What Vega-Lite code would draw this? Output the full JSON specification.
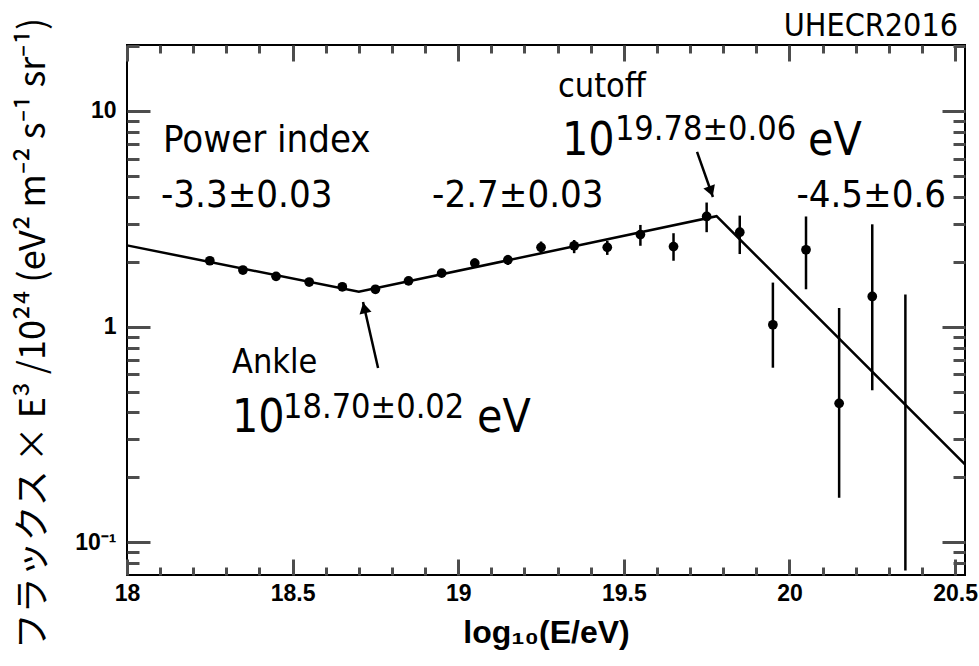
{
  "$schema": "https://vega.github.io/schema/vega-lite/v6.json",
  "width": 838,
  "height": 530,
  "autosize": "none",
  "padding": {"left": 127, "top": 45, "right": 14, "bottom": 91},
  "background": "white",
  "config": {
    "view": {"stroke": "black", "strokeWidth": 2},
    "axis": {"domain": false, "grid": false, "labelColor": "black", "titleColor": "black", "labelFlush": false}
  },
  "datasets": {
    "fit": [
      {"x": 18.0, "y": 2.38},
      {"x": 18.70, "y": 1.45},
      {"x": 19.78, "y": 3.25},
      {"x": 20.53, "y": 0.23}
    ],
    "meas": [
      {"x": 18.25, "y": 2.02, "lo": 1.95, "hi": 2.09},
      {"x": 18.35, "y": 1.83, "lo": 1.77, "hi": 1.89},
      {"x": 18.45, "y": 1.71, "lo": 1.65, "hi": 1.77},
      {"x": 18.55, "y": 1.61, "lo": 1.55, "hi": 1.67},
      {"x": 18.65, "y": 1.53, "lo": 1.47, "hi": 1.59},
      {"x": 18.75, "y": 1.49, "lo": 1.43, "hi": 1.55},
      {"x": 18.85, "y": 1.63, "lo": 1.57, "hi": 1.70},
      {"x": 18.95, "y": 1.77, "lo": 1.70, "hi": 1.85},
      {"x": 19.05, "y": 1.97, "lo": 1.90, "hi": 2.07},
      {"x": 19.15, "y": 2.04, "lo": 1.93, "hi": 2.15},
      {"x": 19.25, "y": 2.33, "lo": 2.19, "hi": 2.48},
      {"x": 19.35, "y": 2.37, "lo": 2.19, "hi": 2.52},
      {"x": 19.45, "y": 2.33, "lo": 2.15, "hi": 2.50},
      {"x": 19.55, "y": 2.67, "lo": 2.37, "hi": 2.96},
      {"x": 19.65, "y": 2.35, "lo": 2.02, "hi": 2.71},
      {"x": 19.75, "y": 3.24, "lo": 2.74, "hi": 3.76},
      {"x": 19.85, "y": 2.74, "lo": 2.17, "hi": 3.27},
      {"x": 19.95, "y": 1.02, "lo": 0.645, "hi": 1.60},
      {"x": 20.05, "y": 2.27, "lo": 1.49, "hi": 3.24},
      {"x": 20.15, "y": 0.441, "lo": 0.161, "hi": 1.22},
      {"x": 20.25, "y": 1.38, "lo": 0.507, "hi": 2.98},
      {"x": 20.35, "y": null, "lo": 0.074, "hi": 1.41}
    ]
  },
  "layer": [
    {
      "data": {"name": "fit"},
      "mark": {"type": "line", "color": "black", "strokeWidth": 2.5},
      "encoding": {
        "x": {"field": "x", "type": "quantitative",
              "scale": {"type": "linear", "domain": [18, 20.53], "nice": false, "zero": false},
              "axis": {"orient": "bottom", "values": [18, 18.5, 19, 19.5, 20, 20.5], "format": "~g", "tickSize": -16, "tickColor": "#4d4d4d", "tickWidth": 3, "labelPadding": 23,
                       "labelFont": "Liberation Sans", "labelFontWeight": "bold", "labelFontSize": 23,
                       "title": "log₁₀(E/eV)", "titleFont": "Liberation Sans", "titleFontWeight": "bold", "titleFontSize": 32, "titlePadding": 12}},
        "y": {"field": "y", "type": "quantitative",
              "scale": {"type": "log", "domain": [0.0706, 20.2], "nice": false},
              "axis": {"orient": "left", "values": [0.1, 1, 10], "tickSize": -23, "tickColor": "#4d4d4d", "tickWidth": 3, "labelPadding": 34,
                       "labelExpr": "datum.value < 0.5 ? '10⁻¹' : (datum.value < 5 ? '1' : '10')",
                       "labelFont": "Liberation Sans", "labelFontWeight": "bold", "labelFontSize": 23,
                       "title": "フラックス × E³ /10²⁴ (eV² m⁻² s⁻¹ sr⁻¹)", "titleFont": "Noto Sans CJK JP", "titleFontWeight": "normal", "titleFontSize": 36, "titlePadding": 22, "titleY": 288}}
      }
    },
    {
      "data": {"name": "meas"},
      "mark": {"type": "rule", "color": "black", "strokeWidth": 2.5},
      "encoding": {
        "x": {"field": "x", "type": "quantitative",
              "axis": {"orient": "bottom", "values": [18.1, 18.2, 18.3, 18.4, 18.6, 18.7, 18.8, 18.9, 19.1, 19.2, 19.3, 19.4, 19.6, 19.7, 19.8, 19.9, 20.1, 20.2, 20.3, 20.4], "tickSize": -8, "tickColor": "#4d4d4d", "tickWidth": 3, "labels": false, "title": null}},
        "y": {"field": "lo", "type": "quantitative",
              "axis": {"orient": "left", "values": [0.07, 0.08, 0.09, 0.2, 0.3, 0.4, 0.5, 0.6, 0.7, 0.8, 0.9, 2, 3, 4, 5, 6, 7, 8, 9, 20], "tickSize": -12, "tickColor": "#4d4d4d", "tickWidth": 3, "labels": false, "title": null}},
        "y2": {"field": "hi"}
      }
    },
    {
      "data": {"name": "meas"},
      "transform": [{"filter": "datum.y != null"}],
      "mark": {"type": "point", "filled": true, "color": "black", "opacity": 1, "size": 95},
      "encoding": {
        "x": {"field": "x", "type": "quantitative",
              "axis": {"orient": "top", "values": [18, 18.5, 19, 19.5, 20, 20.5], "tickSize": -16, "tickColor": "#4d4d4d", "tickWidth": 3, "labels": false, "title": null}},
        "y": {"field": "y", "type": "quantitative",
              "axis": {"orient": "right", "values": [0.1, 1, 10], "tickSize": -23, "tickColor": "#4d4d4d", "tickWidth": 3, "labels": false, "title": null}}
      }
    },
    {
      "data": {"values": [
        {"x": 19.721, "y": 6.46, "x2": 19.769, "y2": 3.99},
        {"x": 18.758, "y": 0.643, "x2": 18.7126, "y2": 1.30}
      ]},
      "mark": {"type": "rule", "color": "black", "strokeWidth": 2.5},
      "encoding": {
        "x": {"field": "x", "type": "quantitative",
              "axis": {"orient": "top", "values": [18.1, 18.2, 18.3, 18.4, 18.6, 18.7, 18.8, 18.9, 19.1, 19.2, 19.3, 19.4, 19.6, 19.7, 19.8, 19.9, 20.1, 20.2, 20.3, 20.4], "tickSize": -8, "tickColor": "#4d4d4d", "tickWidth": 3, "labels": false, "title": null}},
        "y": {"field": "y", "type": "quantitative",
              "axis": {"orient": "right", "values": [0.07, 0.08, 0.09, 0.2, 0.3, 0.4, 0.5, 0.6, 0.7, 0.8, 0.9, 2, 3, 4, 5, 6, 7, 8, 9, 20], "tickSize": -12, "tickColor": "#4d4d4d", "tickWidth": 3, "labels": false, "title": null}},
        "x2": {"field": "x2"},
        "y2": {"field": "y2"}
      }
    },
    {
      "data": {"values": [{"x": 19.763, "y": 4.24}]},
      "mark": {"type": "point", "shape": "triangle-down", "filled": true, "color": "black", "opacity": 1, "size": 150, "angle": 340},
      "encoding": {
        "x": {"field": "x", "type": "quantitative", "axis": null},
        "y": {"field": "y", "type": "quantitative", "axis": null}
      }
    },
    {
      "data": {"values": [{"x": 18.7165, "y": 1.222}]},
      "mark": {"type": "point", "shape": "triangle-up", "filled": true, "color": "black", "opacity": 1, "size": 150, "angle": 347},
      "encoding": {
        "x": {"field": "x", "type": "quantitative", "axis": null},
        "y": {"field": "y", "type": "quantitative", "axis": null}
      }
    },
    {
      "data": {"values": [
        {"x": 18.1087, "y": 6.45, "label": "Power index"},
        {"x": 18.1027, "y": 3.59, "label": "-3.3±0.03"},
        {"x": 18.921, "y": 3.59, "label": "-2.7±0.03"}
      ]},
      "mark": {"type": "text", "align": "left", "baseline": "alphabetic", "fontSize": 38, "font": "Liberation Sans Narrow, DejaVu Sans Condensed, Open Sans", "color": "black"},
      "encoding": {
        "x": {"field": "x", "type": "quantitative", "axis": null},
        "y": {"field": "y", "type": "quantitative", "axis": null},
        "text": {"field": "label"}
      }
    },
    {
      "data": {"values": [
        {"x": 20.473, "y": 3.59, "label": "-4.5±0.6"}
      ]},
      "mark": {"type": "text", "align": "right", "baseline": "alphabetic", "fontSize": 38, "font": "Liberation Sans Narrow, DejaVu Sans Condensed, Open Sans", "color": "black"},
      "encoding": {
        "x": {"field": "x", "type": "quantitative", "axis": null},
        "y": {"field": "y", "type": "quantitative", "axis": null},
        "text": {"field": "label"}
      }
    },
    {
      "data": {"values": [
        {"x": 20.509, "y": 22.27, "label": "UHECR2016"}
      ]},
      "mark": {"type": "text", "align": "right", "baseline": "alphabetic", "fontSize": 32, "font": "Liberation Sans Narrow, DejaVu Sans Condensed, Open Sans", "color": "black"},
      "encoding": {
        "x": {"field": "x", "type": "quantitative", "axis": null},
        "y": {"field": "y", "type": "quantitative", "axis": null},
        "text": {"field": "label"}
      }
    },
    {
      "data": {"values": [
        {"x": 19.301, "y": 11.6, "label": "cutoff"},
        {"x": 18.317, "y": 0.61, "label": "Ankle"}
      ]},
      "mark": {"type": "text", "align": "left", "baseline": "alphabetic", "fontSize": 34, "font": "Liberation Sans Narrow, DejaVu Sans Condensed, Open Sans", "color": "black"},
      "encoding": {
        "x": {"field": "x", "type": "quantitative", "axis": null},
        "y": {"field": "y", "type": "quantitative", "axis": null},
        "text": {"field": "label"}
      }
    },
    {
      "data": {"values": [
        {"x": 19.313, "y": 6.25, "label": "10"},
        {"x": 20.056, "y": 6.25, "label": "eV"},
        {"x": 18.317, "y": 0.325, "label": "10"},
        {"x": 19.057, "y": 0.325, "label": "eV"}
      ]},
      "mark": {"type": "text", "align": "left", "baseline": "alphabetic", "fontSize": 46, "font": "Liberation Sans Narrow, DejaVu Sans Condensed, Open Sans", "color": "black"},
      "encoding": {
        "x": {"field": "x", "type": "quantitative", "axis": null},
        "y": {"field": "y", "type": "quantitative", "axis": null},
        "text": {"field": "label"}
      }
    },
    {
      "data": {"values": [
        {"x": 19.473, "y": 7.34, "label": "19.78±0.06"},
        {"x": 18.471, "y": 0.3774, "label": "18.70±0.02"}
      ]},
      "mark": {"type": "text", "align": "left", "baseline": "alphabetic", "fontSize": 34, "font": "Liberation Sans Narrow, DejaVu Sans Condensed, Open Sans", "color": "black"},
      "encoding": {
        "x": {"field": "x", "type": "quantitative", "axis": null},
        "y": {"field": "y", "type": "quantitative", "axis": null},
        "text": {"field": "label"}
      }
    }
  ],
  "resolve": {"axis": {"x": "independent", "y": "independent"}}
}
